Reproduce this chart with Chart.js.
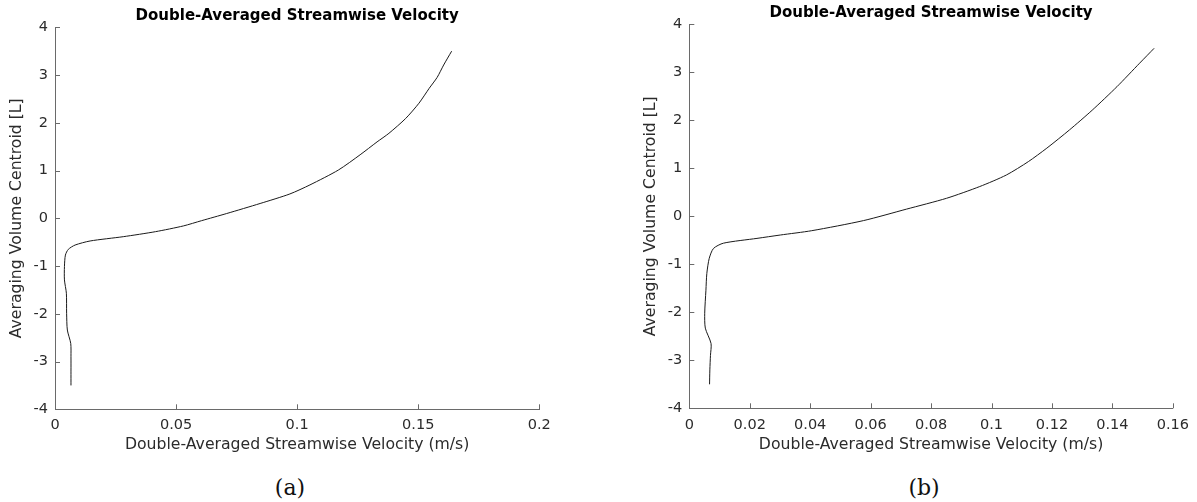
<!DOCTYPE html>
<html>
<head>
<meta charset="utf-8">
<title>Double-Averaged Streamwise Velocity</title>
<script src="https://cdn.jsdelivr.net/npm/chart.js@4.4.1/dist/chart.umd.min.js"></script>
<style>
  html, body { margin: 0; padding: 0; background: #fff; overflow: hidden; }
  body { width: 1197px; height: 502px; position: relative; }
  .panel { position: absolute; top: 0; }
  .panel canvas { display: block; }
  .tag {
    position: absolute; top: 475px; width: 80px; margin-left: -40px;
    text-align: center; line-height: 26px;
    font-family: "DejaVu Serif", serif; font-size: 22px; color: #111;
  }
</style>
</head>
<body>
<div class="panel" style="left:0px"><canvas id="chartA" width="600" height="460"></canvas></div>
<div class="panel" style="left:634px"><canvas id="chartB" width="563" height="460"></canvas></div>
<div class="tag" style="left:290px">(a)</div>
<div class="tag" style="left:924px">(b)</div>

<script>
const titleText = "Double-Averaged Streamwise Velocity";
const xTitle = "Double-Averaged Streamwise Velocity (m/s)";
const yTitle = "Averaging Volume Centroid [L]";

// profile (a): velocity (m/s) vs centroid height
const velA = [0.0066, 0.0066, 0.0066, 0.0065, 0.0051, 0.0048, 0.0047, 0.0039, 0.0039, 0.0043,
              0.0055, 0.0083, 0.0145, 0.0282, 0.0415, 0.053, 0.0605, 0.0709, 0.0847, 0.097,
              0.1053, 0.117, 0.126, 0.133, 0.1379, 0.1448, 0.1503, 0.1545, 0.1578, 0.1605, 0.1638];
const depthA = [-3.5, -3.2, -2.9, -2.62, -2.34, -1.99, -1.57, -1.29, -1.01, -0.77,
                -0.65, -0.56, -0.475, -0.385, -0.28, -0.16, -0.05, 0.1, 0.31, 0.51,
                0.7, 1.01, 1.33, 1.6, 1.78, 2.09, 2.41, 2.72, 2.95, 3.21, 3.5];
const xTicksA = [0, 0.05, 0.1, 0.15, 0.2];

// profile (b)
const velB = [0.0067, 0.0068, 0.007, 0.0072, 0.0053, 0.0051, 0.0055, 0.0058, 0.0066, 0.008,
              0.0113, 0.0224, 0.0301, 0.0405, 0.0576, 0.0719, 0.0851, 0.0961, 0.1049, 0.1122,
              0.1183, 0.1258, 0.1333, 0.1415, 0.149, 0.1538];
const depthB = [-3.5, -3.2, -2.9, -2.65, -2.33, -2.02, -1.54, -1.19, -0.875, -0.67,
                -0.56, -0.46, -0.39, -0.3, -0.09, 0.15, 0.375, 0.62, 0.86, 1.14,
                1.42, 1.8, 2.21, 2.7, 3.19, 3.5];
const xTicksB = [0, 0.02, 0.04, 0.06, 0.08, 0.1, 0.12, 0.14, 0.16];

const yTicks = [-4, -3, -2, -1, 0, 1, 2, 3, 4];

const axisColor = "#6a6a6a";
const textColor = "#2b2b2b";
const fontFamily = "'DejaVu Sans', sans-serif";

// matlab-style tick marks pointing into the plot
const inwardTicks = {
  id: "inwardTicks",
  afterDraw(chart) {
    const { ctx, chartArea, scales } = chart;
    ctx.save();
    ctx.strokeStyle = axisColor;
    ctx.lineWidth = 1;
    ctx.beginPath();
    scales.x.ticks.forEach(t => {
      const px = Math.round(scales.x.getPixelForValue(t.value)) + 0.5;
      ctx.moveTo(px, chartArea.bottom);
      ctx.lineTo(px, chartArea.bottom - 5);
    });
    scales.y.ticks.forEach(t => {
      const py = Math.round(scales.y.getPixelForValue(t.value)) + 0.5;
      ctx.moveTo(chartArea.left, py);
      ctx.lineTo(chartArea.left + 5, py);
    });
    ctx.stroke();
    ctx.restore();
  }
};

function makeChart(id, vel, depth, xTicks, cfg) {
  const points = vel.map((v, i) => ({ x: v, y: depth[i] }));
  return new Chart(document.getElementById(id), {
    type: "scatter",
    data: {
      datasets: [{
        data: points,
        showLine: true,
        borderColor: "#1a1a1a",
        borderWidth: 1,
        pointRadius: 0,
        tension: 0.25
      }]
    },
    options: {
      responsive: false,
      animation: false,
      layout: { padding: { left: 0, right: cfg.padRight, top: 0, bottom: 0 } },
      plugins: {
        legend: { display: false },
        tooltip: { enabled: false },
        title: {
          display: true,
          text: titleText,
          fullSize: false,
          color: "#000",
          font: { family: fontFamily, size: 15, weight: "bold" },
          padding: { top: cfg.titleTop, bottom: 2.6 }
        }
      },
      scales: {
        x: {
          type: "linear",
          min: xTicks[0],
          max: xTicks[xTicks.length - 1],
          afterBuildTicks: s => { s.ticks = xTicks.map(v => ({ value: v })); },
          afterFit: s => { s.height = cfg.xAxisH; },
          grid: { drawOnChartArea: false, drawTicks: false },
          border: { display: true, color: axisColor, width: 1 },
          ticks: {
            padding: cfg.xTickPad,
            color: textColor,
            font: { family: fontFamily, size: 14.5 },
            callback: v => String(v)
          },
          title: {
            display: true,
            text: xTitle,
            color: textColor,
            font: { family: fontFamily, size: 15.7 },
            padding: { top: 0, bottom: 5.6 }
          }
        },
        y: {
          type: "linear",
          min: -4,
          max: 4,
          afterBuildTicks: s => { s.ticks = yTicks.map(v => ({ value: v })); },
          afterFit: s => { s.width = cfg.yAxisW; },
          grid: { drawOnChartArea: false, drawTicks: false },
          border: { display: true, color: axisColor, width: 1 },
          ticks: {
            padding: 7,
            color: textColor,
            font: { family: fontFamily, size: 14.5 },
            callback: v => String(v)
          },
          title: {
            display: true,
            text: yTitle,
            color: textColor,
            font: { family: fontFamily, size: 15.7 },
            padding: { top: 7.8, bottom: 0 }
          }
        }
      }
    },
    plugins: [inwardTicks]
  });
}

makeChart("chartA", velA, depthA, xTicksA,
  { padRight: 60.7, titleTop: 6.7, xAxisH: 50.7, yAxisW: 55, xTickPad: 7 });
makeChart("chartB", velB, depthB, xTicksB,
  { padRight: 23, titleTop: 3.7, xAxisH: 51.7, yAxisW: 55.3, xTickPad: 8 });
</script>
</body>
</html>
